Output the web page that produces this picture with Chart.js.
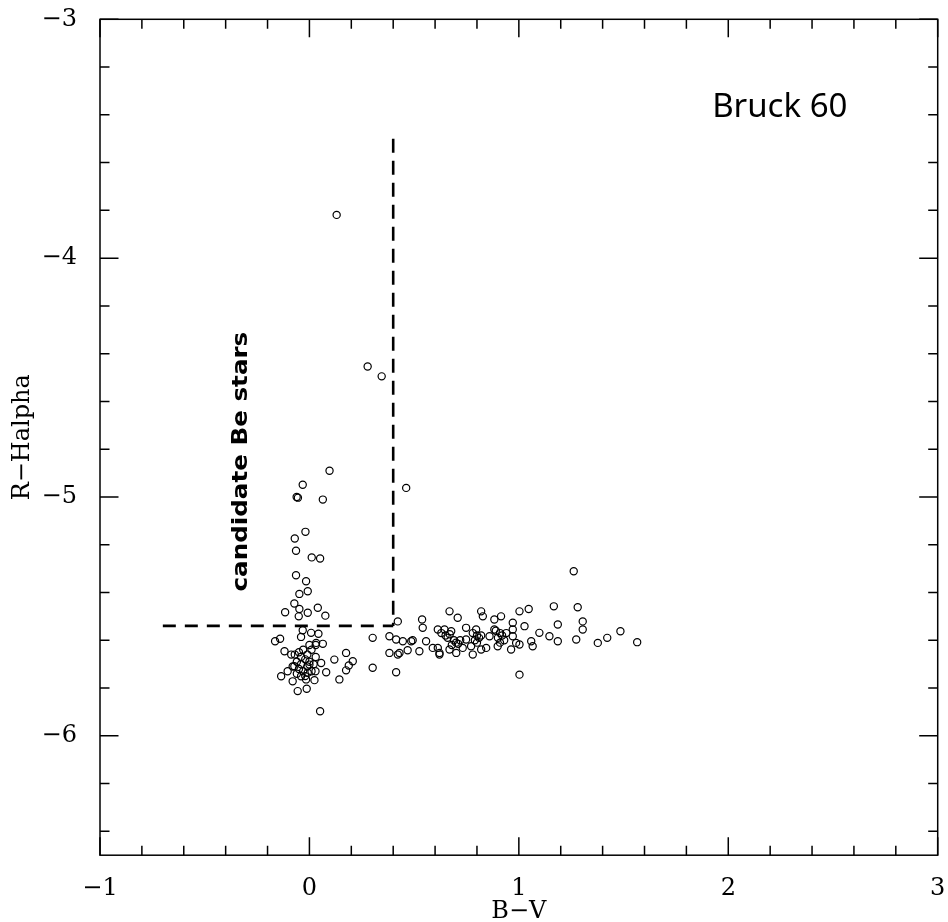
<!DOCTYPE html>
<html><head><meta charset="utf-8">
<script src="https://cdn.jsdelivr.net/npm/chart.js@4"></script>
<style>html,body{margin:0;padding:0;background:#fff;}</style>
</head><body>
<canvas id="c" width="948" height="922"></canvas>
<script>
// B-V colour index of each star
const bv = [
  0.130, 0.278, 0.345, 0.462, 0.096, -0.032, -0.061, -0.055, 0.064, -0.019,
  -0.070, -0.064, 0.011, 0.051, -0.064, -0.016, -0.048, -0.008, -0.072, -0.116,
  -0.048, -0.008, 0.040, 0.076, -0.051, 0.422,
  -0.032, 0.008, 0.043, -0.164, -0.140, -0.040, 0.032, 0.064, -0.119, -0.087,
  0.119, 0.175, 0.207, 0.188, 0.175, 0.143, -0.135, -0.104, -0.080, -0.040,
  -0.008, 0.029, 0.080, 0.024, -0.016, -0.056, -0.013, -0.072, 0.000, 0.056,
  0.051, 0.302, 0.302,
  -0.07, -0.05, -0.03, -0.01, 0.01, -0.06, -0.04, -0.02, 0.00, 0.02,
  -0.05, -0.03, -0.01, 0.01, -0.06, -0.02, 0.03, -0.04, -0.08, 0.00, 0.03,
  0.382, 0.414, 0.446, 0.486, 0.382, 0.430, 0.469, 0.414, 1.262, 0.669,
  0.708, 0.538, 0.541, 0.820, 0.828, 0.883, 0.915, 1.003, 1.047, 1.167,
  1.281, 1.305, 1.305, 1.186, 1.027, 0.971, 0.971, 0.748, 0.796, 0.613,
  0.645, 0.677, 0.860, 0.883, 1.098, 1.146, 1.186, 1.274, 1.377, 1.422,
  1.485, 1.565, 0.493, 0.557, 0.589, 0.525, 0.422, 0.621, 0.669, 0.701,
  0.732, 0.772, 0.780, 0.820, 0.844, 0.899, 0.963, 1.003, 1.059, 1.066,
  0.987, 1.003, 0.748, 0.971, 0.613, 0.621,
  0.63, 0.65, 0.67, 0.66, 0.69, 0.70, 0.71, 0.72, 0.68, 0.78,
  0.80, 0.81, 0.79, 0.82, 0.80, 0.89, 0.91, 0.92, 0.90, 0.93, 0.91, 0.94
];
// R - Halpha of each star
const rha = [
  -3.819, -4.454, -4.495, -4.962, -4.890, -4.949, -5.000, -5.003, -5.011, -5.146,
  -5.174, -5.225, -5.253, -5.258, -5.328, -5.353, -5.406, -5.395, -5.446, -5.483,
  -5.469, -5.485, -5.464, -5.497, -5.500, -5.521,
  -5.558, -5.569, -5.573, -5.604, -5.594, -5.586, -5.611, -5.615, -5.646, -5.660,
  -5.681, -5.653, -5.688, -5.706, -5.726, -5.764, -5.751, -5.730, -5.772, -5.751,
  -5.736, -5.730, -5.734, -5.767, -5.764, -5.813, -5.803, -5.709, -5.702, -5.695,
  -5.897, -5.715, -5.590,
  -5.66, -5.65, -5.64, -5.66, -5.64, -5.69, -5.70, -5.68, -5.69, -5.70,
  -5.72, -5.73, -5.71, -5.73, -5.74, -5.75, -5.67, -5.67, -5.71, -5.62, -5.62,
  -5.583, -5.597, -5.604, -5.604, -5.653, -5.653, -5.642, -5.734, -5.311, -5.479,
  -5.506, -5.513, -5.548, -5.479, -5.500, -5.513, -5.500, -5.479, -5.469, -5.458,
  -5.462, -5.521, -5.555, -5.534, -5.541, -5.527, -5.555, -5.548, -5.555, -5.555,
  -5.555, -5.562, -5.583, -5.555, -5.569, -5.583, -5.604, -5.597, -5.611, -5.590,
  -5.562, -5.608, -5.600, -5.604, -5.632, -5.646, -5.660, -5.653, -5.639, -5.653,
  -5.632, -5.625, -5.660, -5.639, -5.632, -5.625, -5.639, -5.618, -5.604, -5.625,
  -5.611, -5.744, -5.597, -5.583, -5.632, -5.660,
  -5.57, -5.58, -5.575, -5.59, -5.60, -5.61, -5.615, -5.60, -5.62, -5.57,
  -5.58, -5.59, -5.60, -5.58, -5.61, -5.56, -5.57, -5.58, -5.59, -5.60, -5.61, -5.57
];
// axis ticks
const xMajorTicks = [-1, 0, 1, 2, 3];
const xMinorTicks = [-0.8, -0.6, -0.4, -0.2, 0.2, 0.4, 0.6, 0.8, 1.2, 1.4, 1.6, 1.8, 2.2, 2.4, 2.6, 2.8];
const yMajorTicks = [-3, -4, -5, -6];
const yMinorTicks = [-3.2, -3.4, -3.6, -3.8, -4.2, -4.4, -4.6, -4.8, -5.2, -5.4, -5.6, -5.8, -6.2, -6.4];
// selection box for candidate Be stars
const cutBV = 0.4;
const cutRHa = -5.54;
const cutTop = -3.5;
const cutLeft = -0.7;
// annotations
const clusterName = 'Bruck 60';
const regionLabel = 'candidate Be stars';

const fmt = v => (v < 0 ? '\u2212' + Math.abs(v) : String(v));
const tickFont = { family: 'DejaVu Serif', size: 24 };

const framePlugin = {
  id: 'frame',
  afterDatasetsDraw(chart) {
    const { ctx, chartArea: a, scales: { x, y } } = chart;
    ctx.save();
    ctx.strokeStyle = '#000';
    ctx.lineWidth = 1.5;
    ctx.strokeRect(a.left, a.top, a.right - a.left, a.bottom - a.top);
    ctx.beginPath();
    const xt = (vals, len) => vals.forEach(v => {
      const px = x.getPixelForValue(v);
      ctx.moveTo(px, a.bottom); ctx.lineTo(px, a.bottom - len);
      ctx.moveTo(px, a.top); ctx.lineTo(px, a.top + len);
    });
    const yt = (vals, len) => vals.forEach(v => {
      const py = y.getPixelForValue(v);
      ctx.moveTo(a.left, py); ctx.lineTo(a.left + len, py);
      ctx.moveTo(a.right, py); ctx.lineTo(a.right - len, py);
    });
    xt(xMajorTicks, 18); xt(xMinorTicks, 9.5);
    yt(yMajorTicks, 18.5); yt(yMinorTicks, 9.5);
    ctx.stroke();
    ctx.restore();
  },
  afterDraw(chart) {
    const { ctx, scales: { x, y } } = chart;
    ctx.save();
    ctx.fillStyle = '#000';
    ctx.font = '33px "Noto Sans"';
    ctx.textAlign = 'left';
    ctx.textBaseline = 'alphabetic';
    ctx.fillText(clusterName, x.getPixelForValue(1.923), y.getPixelForValue(-3.41));
    ctx.translate(x.getPixelForValue(-0.296), y.getPixelForValue(-4.852));
    ctx.rotate(-Math.PI / 2);
    ctx.scale(1.2, 1);
    ctx.font = 'bold 20.5px "DejaVu Sans"';
    ctx.textAlign = 'center';
    ctx.fillText(regionLabel, 0, 0);
    ctx.restore();
  }
};

new Chart(document.getElementById('c'), {
  type: 'scatter',
  data: {
    datasets: [
      {
        data: bv.map((v, i) => ({ x: v, y: rha[i] })),
        pointRadius: 3.6,
        pointBorderWidth: 1.2,
        borderColor: '#000',
        backgroundColor: 'rgba(0,0,0,0)',
        pointBackgroundColor: 'rgba(0,0,0,0)',
        pointBorderColor: '#000',
        showLine: false
      },
      {
        data: [{ x: cutBV, y: cutTop }, { x: cutBV, y: cutRHa }],
        showLine: true, pointRadius: 0, borderColor: '#000', borderWidth: 2.6,
        borderDash: [14, 8]
      },
      {
        data: [{ x: cutLeft, y: cutRHa }, { x: cutBV, y: cutRHa }],
        showLine: true, pointRadius: 0, borderColor: '#000', borderWidth: 2.6,
        borderDash: [13, 9]
      }
    ]
  },
  options: {
    responsive: false,
    animation: false,
    devicePixelRatio: 1,
    layout: { padding: { top: 19.3, right: 10.3, left: 0, bottom: 0 } },
    plugins: { legend: { display: false }, tooltip: { enabled: false } },
    scales: {
      x: {
        type: 'linear', position: 'bottom', min: -1, max: 3,
        grid: { display: false }, border: { display: false },
        ticks: { font: tickFont, color: '#000', padding: 11, callback: v => fmt(v) },
        afterBuildTicks: s => { s.ticks = xMajorTicks.map(v => ({ value: v })); },
        afterFit: s => { s.height = 66.8; s.paddingLeft = 0; s.paddingRight = 0; },
        title: { display: true, text: 'B\u2212V', color: '#000',
          font: { family: 'DejaVu Serif', size: 24, lineHeight: 0.85 }, padding: { top: 0, bottom: 0 } }
      },
      y: {
        type: 'linear', position: 'left', min: -6.5, max: -3,
        grid: { display: false }, border: { display: false },
        ticks: { font: tickFont, color: '#000', padding: 15, callback: v => fmt(v) },
        afterBuildTicks: s => { s.ticks = yMajorTicks.map(v => ({ value: v })); },
        afterFit: s => { s.width = 100; s.paddingTop = 0; s.paddingBottom = 0; },
        title: { display: true, text: 'R\u2212Halpha', color: '#000',
          font: { family: 'DejaVu Serif', size: 24, lineHeight: 1 }, padding: { top: 11, bottom: 0 } }
      }
    }
  },
  plugins: [framePlugin]
});
</script>
</body></html>
